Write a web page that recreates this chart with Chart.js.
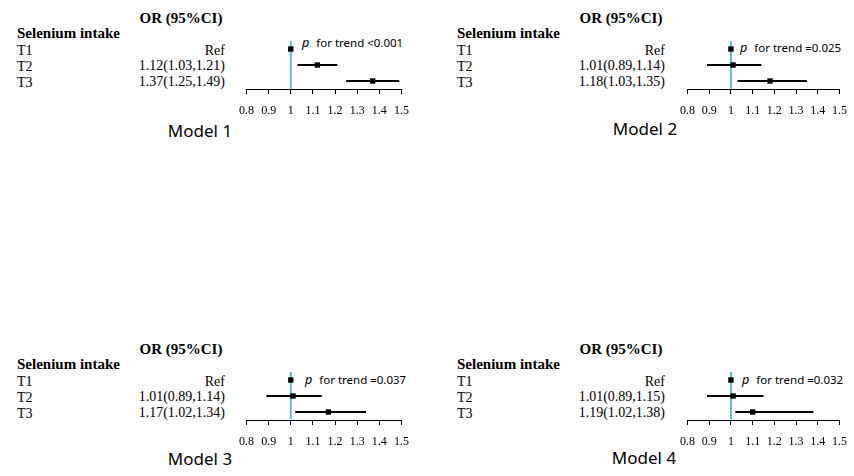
<!DOCTYPE html>
<html>
<head>
<meta charset="utf-8">
<script src="https://cdn.jsdelivr.net/npm/chart.js@4"></script>
<style>
  html, body { margin: 0; padding: 0; background: #fff; }
  body { position: relative; width: 854px; height: 476px; overflow: hidden; }
  canvas { position: absolute; }
  .t { position: absolute; white-space: nowrap; color: #000; line-height: 1; }
  .serif { font-family: "Liberation Serif", "Times New Roman", serif; }
  .head { font-weight: bold; font-size: 15px; }
  .row { font-size: 14px; }
  .model { font-family: "Noto Sans", "Open Sans", sans-serif; font-size: 17px; }
  .trend { font-family: "Noto Sans", "Open Sans", sans-serif; font-size: 11.5px; }
  .trend i { margin-right: 4px; font-size: 12.5px; }
</style>
</head>
<body>
<script>
// data
const rowNames = ['T1', 'T2', 'T3'];
const modelNames = ['Model 1', 'Model 2', 'Model 3', 'Model 4'];
const orText = [
  ['Ref', '1.12(1.03,1.21)', '1.37(1.25,1.49)'],
  ['Ref', '1.01(0.89,1.14)', '1.18(1.03,1.35)'],
  ['Ref', '1.01(0.89,1.14)', '1.17(1.02,1.34)'],
  ['Ref', '1.01(0.89,1.15)', '1.19(1.02,1.38)']
];
// point estimates as drawn in the picture
const orPoint = [
  [1, 1.12, 1.37],
  [1, 1.01, 1.18],
  [1, 1.01, 1.17],
  [1, 1.01, 1.10]
];
const ciLow = [
  [null, 1.03, 1.25],
  [null, 0.89, 1.03],
  [null, 0.89, 1.02],
  [null, 0.89, 1.02]
];
const ciHigh = [
  [null, 1.21, 1.49],
  [null, 1.14, 1.35],
  [null, 1.14, 1.34],
  [null, 1.15, 1.38]
];
const trendText = ['<0.001', '=0.025', '=0.037', '=0.032'];
const tickLabels = ['0.8', '0.9', '1', '1.1', '1.2', '1.3', '1.4', '1.5'];

// layout of the four panels
const panels = [
  { ox: 0,   oy: 0,   axL: 241, axR: 407, top: 41,  modelX: 200, modelY: 130, trendX: 302, trendY: 43 },
  { ox: 440, oy: 0,   axL: 682, axR: 845, top: 41,  modelX: 645, modelY: 128, trendX: 740, trendY: 48 },
  { ox: 0,   oy: 331, axL: 241, axR: 407, top: 372, modelX: 200, modelY: 458, trendX: 305, trendY: 380 },
  { ox: 440, oy: 331, axL: 682, axR: 845, top: 372, modelX: 644, modelY: 457, trendX: 742, trendY: 380 }
];
const PAD = 12, PADTOP = 6, AREA_H = 48, AXIS_H = 32;

function addText(html, cls, x, y, align) {
  const d = document.createElement('div');
  d.className = 't ' + cls;
  d.innerHTML = html;
  d.style.top = y + 'px';
  if (align === 'right') {
    d.style.right = (854 - x) + 'px';
    d.style.transform = 'translateY(-50%)';
  } else if (align === 'center') {
    d.style.left = x + 'px';
    d.style.transform = 'translate(-50%,-50%)';
  } else {
    d.style.left = x + 'px';
    d.style.transform = 'translateY(-50%)';
  }
  document.body.appendChild(d);
}

function drawPanel(p, k) {
  // table text
  addText('OR (95%CI)', 'serif head', p.ox + 181, p.oy + 18, 'center');
  addText('Selenium intake', 'serif head', p.ox + 17, p.oy + 33, 'left');
  const rowY = [51, 67, 83];
  const valY = [51, 66, 82];
  rowNames.forEach((r, i) => {
    addText(r, 'serif row', p.ox + 17, p.oy + rowY[i], 'left');
    addText(orText[k][i], 'serif row', p.ox + 225, p.oy + valY[i], 'right');
  });
  addText('<i>p</i> for trend ' + trendText[k].replace('<', '&lt;'), 'trend', p.trendX, p.trendY, 'left');
  addText(modelNames[k], 'model', p.modelX, p.modelY, 'center');

  // chart canvas
  const cv = document.createElement('canvas');
  const w = p.axR - p.axL + PAD * 2;
  const h = PADTOP + AREA_H + AXIS_H;
  cv.width = w; cv.height = h;
  cv.style.left = (p.axL - PAD) + 'px';
  cv.style.top = (p.top - PADTOP) + 'px';
  cv.style.width = w + 'px';
  cv.style.height = h + 'px';
  document.body.appendChild(cv);

  // lower order is drawn on top
  const datasets = [{
    type: 'line',
    order: 3,
    data: [{ x: 1, y: 0.5 }, { x: 1, y: 3.5 }],
    borderColor: '#62bfcc',
    borderWidth: 2,
    pointRadius: 0,
    clip: false
  }];
  rowNames.forEach((r, i) => {
    if (ciLow[k][i] == null) return;
    datasets.push({
      type: 'line',
      order: 2,
      data: [{ x: ciLow[k][i], y: i + 1 }, { x: ciHigh[k][i], y: i + 1 }],
      borderColor: '#000',
      borderWidth: 2,
      pointRadius: 0,
      clip: false
    });
  });
  datasets.push({
    type: 'scatter',
    order: 1,
    data: orPoint[k].map((v, i) => ({ x: v, y: i + 1 })),
    pointStyle: 'rect',
    pointRadius: 3.8,
    backgroundColor: '#000',
    borderColor: '#000',
    borderWidth: 0,
    clip: false
  });

  new Chart(cv, {
    data: { datasets: datasets },
    options: {
      responsive: false,
      animation: false,
      events: [],
      layout: { padding: { left: PAD, right: PAD, top: PADTOP, bottom: 0 } },
      plugins: { legend: { display: false }, tooltip: { enabled: false } },
      scales: {
        x: {
          type: 'linear', min: 0.8, max: 1.5,
          ticks: {
            stepSize: 0.1, autoSkip: false, maxRotation: 0, padding: 10,
            color: '#000',
            font: { family: '"Liberation Serif", serif', size: 12 },
            callback: (v, i) => tickLabels[i]
          },
          grid: { drawOnChartArea: false, tickLength: 5, color: '#000', tickColor: '#000', lineWidth: 1 },
          border: { color: '#000', width: 1 },
          afterFit: s => { s.height = AXIS_H; }
        },
        y: { type: 'linear', min: 0.5, max: 3.5, reverse: true, display: false }
      }
    }
  });
}

document.fonts.load('12px "Liberation Serif"').then(() => {
  panels.forEach(drawPanel);
});
</script>
</body>
</html>
